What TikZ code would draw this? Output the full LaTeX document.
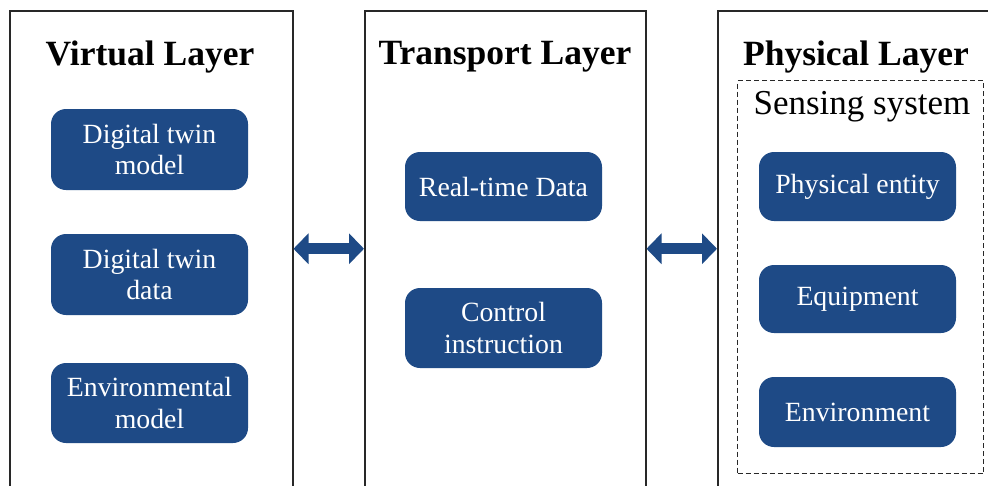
\documentclass[tikz,border=0pt]{standalone}
\usepackage{fontspec}
\setmainfont{Liberation Serif}
\usetikzlibrary{arrows.meta}
\definecolor{dtblue}{RGB}{30,74,134}
\definecolor{frame}{RGB}{40,40,40}
\tikzset{
  panel/.style={draw=frame, line width=1.5pt, anchor=north west, inner sep=0pt},
  bluebox/.style={fill=dtblue, rounded corners=15pt, text=white, align=center,
    minimum width=197pt, font=\fontsize{27.8}{31.5}\selectfont, inner sep=0pt},
  title/.style={font=\fontsize{35.5}{40}\selectfont\bfseries, anchor=base},
  dbl/.style={draw=dtblue, line width=11pt,
    {Triangle[length=15pt,width=30pt]}-{Triangle[length=15pt,width=30pt]}}
}
\begin{document}
\begin{tikzpicture}[x=1pt,y=-1pt]
\clip (0,0) rectangle (988,485);
\fill[white] (0,0) rectangle (988,485);
% panels
\node[panel, minimum width=283pt, minimum height=500pt] (vl) at (9,10) {};
\node[panel, minimum width=281pt, minimum height=500pt] (tl) at (364,10) {};
\node[panel, minimum width=290pt, minimum height=500pt] (pl) at (717,10) {};
% titles
\node[title] (vt) at (150,65) {Virtual Layer};
\node[title] (tt) at (505,64) {Transport Layer};
\node[title] (pt) at (856,65) {Physical Layer};
% sensing system
\node[draw=frame, dashed, dash pattern=on 5pt off 3pt, line width=1pt, anchor=north west,
  minimum width=246pt, minimum height=393pt, inner sep=0pt] (ss) at (737,80) {};
\node[font=\fontsize{35}{40}\selectfont, anchor=base] (sst) at (862,114) {Sensing system};
% virtual layer boxes
\node[bluebox, minimum height=81pt] (v1) at (149.5,149.5) {Digital twin\\model};
\node[bluebox, minimum height=81pt] (v2) at (149.5,274.5) {Digital twin\\data};
\node[bluebox, minimum height=80pt] (v3) at (149.5,403) {Environmental\\model};
% transport layer boxes
\node[bluebox, minimum height=69pt] (t1) at (503.5,186.5) {Real-time Data};
\node[bluebox, minimum height=80pt] (t2) at (503.5,328) {Control\\instruction};
% physical layer boxes
\node[bluebox, minimum height=69pt] (p1) at (857.5,186.5) {Physical entity};
\node[bluebox, minimum height=68pt] (p2) at (857.5,299) {Equipment};
\node[bluebox, minimum height=70pt] (p3) at (857.5,412) {Environment};
% arrows
\draw[dbl] ([yshift=12pt]vl.east) -- ([yshift=12pt]tl.west);
\draw[dbl] ([yshift=12pt]tl.east) -- ([yshift=12pt]pl.west);
\end{tikzpicture}
\end{document}
